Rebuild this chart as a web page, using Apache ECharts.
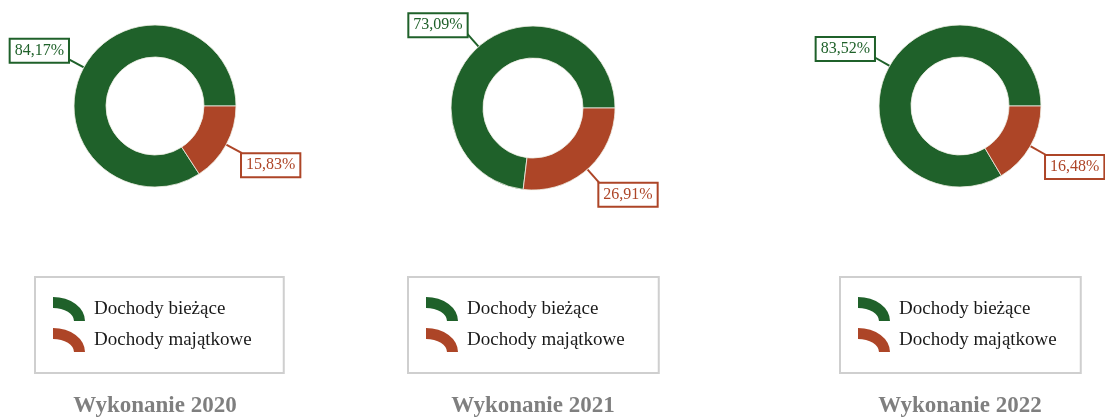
<!DOCTYPE html>
<html>
<head>
<meta charset="utf-8">
<script src="https://cdn.jsdelivr.net/npm/echarts@6/dist/echarts.min.js"></script>
<style>
html,body{margin:0;padding:0;background:#fff;}
#chart{width:1105px;height:417px;}
</style>
</head>
<body>
<div id="chart"></div>
<script>
// ---- data ----
const categories = ['Dochody bieżące', 'Dochody majątkowe'];
const years = ['2020', '2021', '2022'];
const biezace = [84.17, 73.09, 83.52];
const majatkowe = [15.83, 26.91, 16.48];
const colors = ['#1f612a', '#ad4527'];

// ---- layout ----
const centers = [[155, 106], [533, 108], [960, 106]];
const radii = [[49, 81], [50, 82], [49, 81]];
const legendLeft = [35, 408, 840];
const legendPadRight = [32, 34, 24];
const FONT = '"Liberation Serif", "Times New Roman", serif';

const fmt = v => v.toFixed(2).replace('.', ',') + '%';

const series = years.map((y, i) => ({
  type: 'pie',
  center: centers[i],
  radius: radii[i],
  startAngle: 0,
  clockwise: false,
  avoidLabelOverlap: false,
  animation: false,
  itemStyle: { borderColor: 'rgba(240,240,230,0.8)', borderWidth: 1 },
  emphasis: { disabled: true },
  label: {
    position: 'outside',
    formatter: p => fmt(p.value),
    fontFamily: FONT,
    fontSize: 16,
    lineHeight: 16,
    backgroundColor: '#fff',
    borderWidth: 2,
    padding: [3, 4, 3, 4],
    distanceToLabelLine: 0
  },
  labelLine: { show: true, length: 18, length2: 0, smooth: false, lineStyle: { width: 2 } },
  labelLayout: function (p) {
    const c = centers[p.seriesIndex];
    const r = p.labelRect;
    const up = r.y + r.height / 2 < c[1];
    return { dy: up ? -r.height / 2 + 5 : r.height / 2 - 1 };
  },
  data: [biezace[i], majatkowe[i]].map((v, k) => ({
    name: categories[k],
    value: v,
    itemStyle: { color: colors[k] },
    label: { color: colors[k], borderColor: colors[k] },
    labelLine: { lineStyle: { color: colors[k] } }
  }))
}));

const iconPath = 'path://M0,0 A32,24 0 0 1 32,24 L21,24 A21,13 0 0 0 0,11 Z';

const legends = years.map((y, i) => ({
  orient: 'vertical',
  left: legendLeft[i],
  top: 277,
  data: categories,
  icon: iconPath,
  itemWidth: 32,
  itemHeight: 24,
  itemGap: 7,
  padding: [20, legendPadRight[i], 21, 18],
  borderColor: '#cfcfcf',
  borderWidth: 2,
  selectedMode: false,
  itemStyle: { borderWidth: 0 },
  textStyle: { fontFamily: FONT, fontSize: 19, lineHeight: 24, color: '#1a1a1a', padding: [0, 0, 0, 4] }
}));

const titles = years.map((y, i) => ({
  type: 'text',
  x: centers[i][0],
  y: 406,
  style: {
    text: 'Wykonanie ' + y,
    textAlign: 'center',
    textVerticalAlign: 'middle',
    font: 'bold 23px ' + FONT,
    fill: '#7f7f7f'
  }
}));

const chart = echarts.init(document.getElementById('chart'));
chart.setOption({
  backgroundColor: '#fff',
  color: colors,
  animation: false,
  legend: legends,
  series: series,
  graphic: titles
});
</script>
</body>
</html>
